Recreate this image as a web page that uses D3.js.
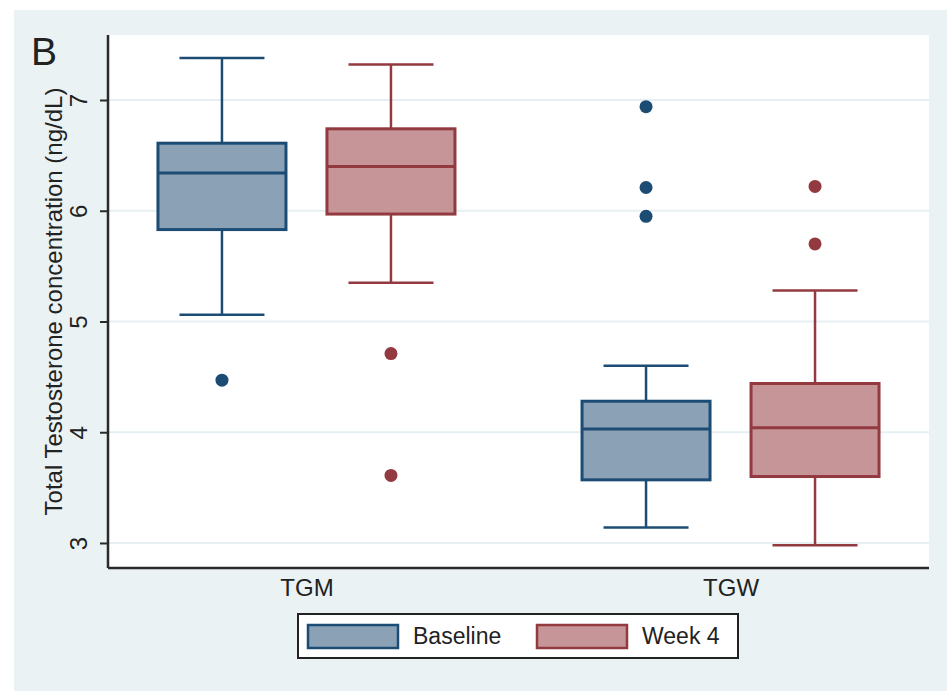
<!DOCTYPE html>
<html>
<head>
<meta charset="utf-8">
<script src="https://cdn.jsdelivr.net/npm/d3@7"></script>
<style>
  html, body { margin: 0; padding: 0; background: #ffffff; }
  svg { display: block; font-family: "Liberation Sans", Arial, sans-serif; }
</style>
</head>
<body>
<svg id="chart" width="947" height="691"></svg>
<script>
// ---- data ----
const categories = ["TGM", "TGW"];
const series = ["Baseline", "Week 4"];
const yTicks = [3, 4, 5, 6, 7];
// [lower whisker, Q1, median, Q3, upper whisker]
const baselineStats = [[5.06, 5.83, 6.34, 6.61, 7.38], [3.14, 3.57, 4.03, 4.28, 4.60]];
const week4Stats    = [[5.35, 5.97, 6.40, 6.74, 7.32], [2.98, 3.60, 4.04, 4.44, 5.28]];
const baselineOutliers = [[4.47], [6.94, 6.21, 5.95]];
const week4Outliers    = [[4.71, 3.61], [6.22, 5.70]];
const yTitle = "Total Testosterone concentration (ng/dL)";
const panelLabel = "B";

const fills = ["#8ba2b6", "#c69598"];
const strokes = ["#1c4c74", "#923a40"];

const svg = d3.select("#chart");
const W = 947, H = 691;
const plot = { left: 108, right: 929, top: 35, bottom: 568 };

// outer panel background
svg.append("rect").attr("x", 14).attr("y", 10).attr("width", W - 14).attr("height", H - 10).attr("fill", "#eaf2f4");
svg.append("rect").attr("x", plot.left).attr("y", plot.top)
  .attr("width", plot.right - plot.left).attr("height", plot.bottom - plot.top).attr("fill", "#ffffff");

const y = d3.scaleLinear().domain([2.774, 7.587]).range([plot.bottom, plot.top]);
const x = d3.scalePoint().domain(categories).range([plot.left, plot.right]).padding(0.468);
const xs = d3.scalePoint().domain(series).range([-84.5, 84.5]);
const boxW = 128, capW = 85;

// gridlines
svg.append("g").selectAll("line").data(yTicks).join("line")
  .attr("x1", plot.left).attr("x2", plot.right)
  .attr("y1", d => y(d)).attr("y2", d => y(d))
  .attr("stroke", "#e6eff2").attr("stroke-width", 2);

// y axis
const yAxis = d3.axisLeft(y).tickValues(yTicks).tickSize(8).tickPadding(0).tickFormat(d3.format("d"));
const gy = svg.append("g").attr("transform", `translate(${plot.left},0)`).call(yAxis);
gy.select(".domain").attr("stroke", "#2a2a2a").attr("stroke-width", 2.5).attr("d", `M0,${plot.top}V${plot.bottom}`);
gy.selectAll(".tick line").attr("stroke", "#2a2a2a").attr("stroke-width", 2);
gy.selectAll(".tick text")
  .attr("x", null).attr("dy", null)
  .attr("transform", "translate(-21,0) rotate(-90)")
  .attr("text-anchor", "middle")
  .attr("font-size", 24).attr("fill", "#222")
  .style("font-family", '"Liberation Sans", Arial, sans-serif');

// x axis
const xAxis = d3.axisBottom(x).tickSize(0).tickPadding(0);
const gx = svg.append("g").attr("transform", `translate(0,${plot.bottom})`).call(xAxis);
gx.select(".domain").attr("stroke", "#2a2a2a").attr("stroke-width", 2.5).attr("d", `M${plot.left},0H${plot.right}`);
gx.selectAll(".tick text").attr("y", 28).attr("dy", null)
  .attr("font-size", 24).attr("fill", "#222")
  .style("font-family", '"Liberation Sans", Arial, sans-serif');

// boxes
const statsBySeries = [baselineStats, week4Stats];
const outBySeries = [baselineOutliers, week4Outliers];
series.forEach((s, si) => {
  categories.forEach((c, ci) => {
    const [lo, q1, med, q3, hi] = statsBySeries[si][ci];
    const cx = x(c) + xs(s);
    const g = svg.append("g");
    const st = strokes[si];
    // whiskers
    g.append("line").attr("x1", cx).attr("x2", cx).attr("y1", y(hi)).attr("y2", y(q3)).attr("stroke", st).attr("stroke-width", 2.5);
    g.append("line").attr("x1", cx).attr("x2", cx).attr("y1", y(q1)).attr("y2", y(lo)).attr("stroke", st).attr("stroke-width", 2.5);
    g.append("line").attr("x1", cx - capW / 2).attr("x2", cx + capW / 2).attr("y1", y(hi)).attr("y2", y(hi)).attr("stroke", st).attr("stroke-width", 2.5);
    g.append("line").attr("x1", cx - capW / 2).attr("x2", cx + capW / 2).attr("y1", y(lo)).attr("y2", y(lo)).attr("stroke", st).attr("stroke-width", 2.5);
    // box
    g.append("rect").attr("x", cx - boxW / 2).attr("y", y(q3)).attr("width", boxW).attr("height", y(q1) - y(q3))
      .attr("fill", fills[si]).attr("stroke", st).attr("stroke-width", 3);
    g.append("line").attr("x1", cx - boxW / 2).attr("x2", cx + boxW / 2).attr("y1", y(med)).attr("y2", y(med)).attr("stroke", st).attr("stroke-width", 3);
    // outliers
    g.selectAll("circle").data(outBySeries[si][ci]).join("circle")
      .attr("cx", cx).attr("cy", d => y(d)).attr("r", 6.5).attr("fill", st);
  });
});

// y title
svg.append("text").attr("transform", `translate(62,${(plot.top + plot.bottom) / 2}) rotate(-90)`)
  .attr("text-anchor", "middle").attr("font-size", 24).attr("fill", "#222").text(yTitle);

// panel label
svg.append("text").attr("x", 31).attr("y", 65).attr("font-size", 39).attr("fill", "#222").text(panelLabel);

// legend
const lg = svg.append("g");
lg.append("rect").attr("x", 298).attr("y", 614).attr("width", 440).attr("height", 44)
  .attr("fill", "#fff").attr("stroke", "#222").attr("stroke-width", 2);
const legX = [308, 537];
const legTextX = [413, 642];
series.forEach((s, i) => {
  lg.append("rect").attr("x", legX[i]).attr("y", 625).attr("width", 90).attr("height", 23)
    .attr("fill", fills[i]).attr("stroke", strokes[i]).attr("stroke-width", 2.5);
  lg.append("text").attr("x", legTextX[i]).attr("y", 644).attr("font-size", 23).attr("fill", "#222").text(s);
});
</script>
</body>
</html>
